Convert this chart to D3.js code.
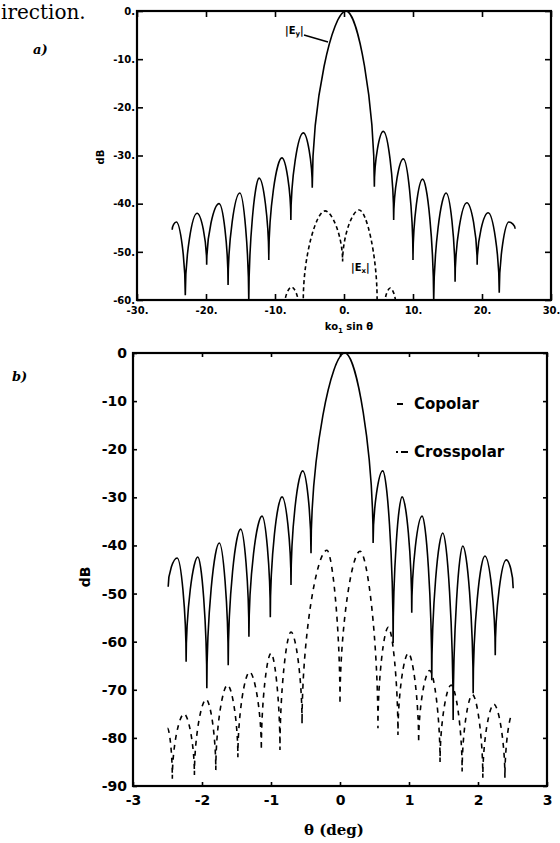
<!DOCTYPE html>
<html>
<head>
<meta charset="utf-8">
<script src="https://cdn.jsdelivr.net/npm/d3@7"></script>
<style>
  body { margin: 0; background: #fff; }
  svg { display: block; }
</style>
</head>
<body>
<script>
// panel a) : ko1 sin(theta) vs dB
const aXTicks = [-30, -20, -10, 0, 10, 20, 30];
const aYTicks = [0, -10, -20, -30, -40, -50, -60];
const aCopolar = [
  [-24.9, -45.4], [-24.3, -43.8], [-23.0, -59], [-21.3, -42], [-19.9, -52.7],
  [-18.1, -40], [-16.8, -56.9], [-15.1, -37.8], [-13.8, -61], [-12.3, -34.7],
  [-10.9, -51.7], [-9.0, -30.5], [-7.7, -43.4], [-5.9, -25.3], [-4.6, -36.7],
  [0.3, 0], [4.4, -36.5], [5.7, -25], [7.2, -43.4], [8.6, -30.7],
  [10.0, -51.7], [11.4, -34.9], [13.0, -61], [14.8, -37.8], [16.1, -56.2],
  [17.8, -39.8], [19.3, -52.7], [20.9, -41.9], [22.5, -58.5], [23.9, -43.8],
  [24.8, -45.2]
];
const aCrosspolar = [
  [-8.6, -61], [-7.6, -57.3], [-6.6, -61], [-5.9, -60], [-2.75, -41.5],
  [-0.2, -52], [2.2, -41.3], [4.8, -60], [5.9, -61], [6.7, -57.5], [7.5, -61]
];

// panel b) : theta (deg) vs dB
const bXTicks = [-3, -2, -1, 0, 1, 2, 3];
const bYTicks = [0, -10, -20, -30, -40, -50, -60, -70, -80, -90];
const bCopolar = [
  [-2.49, -48.6], [-2.36, -42.6], [-2.23, -64.2], [-2.06, -42.4], [-1.93, -69.7],
  [-1.75, -39.5], [-1.62, -64.9], [-1.44, -36.6], [-1.32, -59], [-1.13, -33.9],
  [-1.01, -54.9], [-0.84, -29.9], [-0.71, -48.2], [-0.54, -24.5], [-0.42, -41.6],
  [0.07, 0], [0.48, -39.5], [0.62, -24.5], [0.77, -60.3], [0.90, -29.9],
  [1.04, -54], [1.19, -33.9], [1.33, -68], [1.49, -37.4], [1.64, -76.3],
  [1.78, -40.1], [1.93, -70.7], [2.10, -42.2], [2.25, -62.8], [2.41, -43],
  [2.51, -48.9]
];
const bCrosspolar = [
  [-2.5, -78], [-2.43, -88.5], [-2.26, -75], [-2.11, -87.7], [-1.94, -72],
  [-1.8, -86.7], [-1.63, -69], [-1.48, -84], [-1.31, -66.3], [-1.14, -82.5],
  [-1.0, -62.4], [-0.87, -82.5], [-0.71, -58], [-0.55, -77], [-0.19, -41],
  [0.0, -73], [0.29, -41.2], [0.55, -78], [0.70, -57], [0.84, -79.4],
  [0.99, -62.4], [1.14, -81], [1.3, -66], [1.45, -85], [1.61, -69],
  [1.77, -87], [1.92, -71], [2.07, -88.3], [2.23, -73], [2.39, -88.3],
  [2.5, -75]
];

// lobe shaped curve: vertical tangent at the low (null) end, flat at the high end
const K = 0.5, M = 0.6;
function LobeCurve(context) { this._context = context; }
LobeCurve.prototype = {
  areaStart() {}, areaEnd() {},
  lineStart() { this._point = 0; },
  lineEnd() {},
  point(x, y) {
    x = +x; y = +y;
    const c = this._context;
    if (this._point === 0) {
      this._point = 1;
      c.moveTo(x, y);
    } else {
      const x0 = this._x0, y0 = this._y0;
      if (y < y0) {
        c.bezierCurveTo(x0, y0 + K * (y - y0), x0 + M * (x - x0), y, x, y);
      } else {
        c.bezierCurveTo(x0 + (1 - M) * (x - x0), y0, x, y + K * (y0 - y), x, y);
      }
    }
    this._x0 = x; this._y0 = y;
  }
};
const lobeCurve = ctx => new LobeCurve(ctx);

const svg = d3.select("body").append("svg")
  .attr("width", 560)
  .attr("height", 843);

// scrap of running text above the figure (cut at the page edge in the scan)
svg.append("text")
  .attr("x", 1).attr("y", 19)
  .attr("font-family", "DejaVu Serif")
  .attr("font-size", 20)
  .text("irection.");

function panel(opts) {
  const x = d3.scaleLinear().domain(opts.xDomain).range(opts.xRange);
  const y = d3.scaleLinear().domain(opts.yDomain).range(opts.yRange);
  const [x0, x1] = opts.xRange, [y1, y0] = opts.yRange;
  const g = svg.append("g");

  const clipId = "clip-" + opts.name;
  svg.append("clipPath").attr("id", clipId)
    .append("rect")
    .attr("x", x0).attr("y", y0)
    .attr("width", x1 - x0).attr("height", y1 - y0);

  const line = d3.line().x(d => x(d[0])).y(d => y(d[1])).curve(lobeCurve);

  g.append("path")
    .datum(opts.co)
    .attr("clip-path", `url(#${clipId})`)
    .attr("fill", "none")
    .attr("stroke", "#000")
    .attr("stroke-width", 1.6)
    .attr("d", line);

  g.append("path")
    .datum(opts.cross)
    .attr("clip-path", `url(#${clipId})`)
    .attr("fill", "none")
    .attr("stroke", "#000")
    .attr("stroke-width", 1.6)
    .attr("stroke-dasharray", opts.dash)
    .attr("d", line);

  // axes with inward ticks
  const fmt = opts.fmt;
  g.append("g")
    .attr("transform", `translate(0,${y1})`)
    .call(d3.axisBottom(x).tickValues(opts.xTicks).tickSize(-opts.tick)
      .tickSizeOuter(0).tickPadding(opts.xPad).tickFormat(fmt));
  g.append("g")
    .attr("transform", `translate(${x0},0)`)
    .call(d3.axisLeft(y).tickValues(opts.yTicks).tickSize(-opts.tick)
      .tickSizeOuter(0).tickPadding(opts.yPad).tickFormat(fmt));
  g.append("g")
    .attr("transform", `translate(0,${y0})`)
    .call(d3.axisTop(x).tickValues(opts.xTicks).tickSize(-opts.tick)
      .tickSizeOuter(0).tickFormat(""));
  g.append("g")
    .attr("transform", `translate(${x1},0)`)
    .call(d3.axisRight(y).tickValues(opts.yTicks).tickSize(-opts.tick)
      .tickSizeOuter(0).tickFormat(""));

  g.selectAll(".domain").remove();
  g.selectAll(".tick line").attr("stroke", "#000").attr("stroke-width", 1.6);
  g.selectAll(".tick text")
    .attr("fill", "#000")
    .attr("font-family", "DejaVu Sans")
    .attr("font-weight", "bold")
    .attr("font-size", opts.fontSize);

  g.append("rect")
    .attr("x", x0).attr("y", y0)
    .attr("width", x1 - x0).attr("height", y1 - y0)
    .attr("fill", "none")
    .attr("stroke", "#000")
    .attr("stroke-width", 2.2);

  return { x, y, g };
}

// ---- panel a ----
panel({
  name: "a",
  xDomain: [-30, 30], xRange: [137, 551],
  yDomain: [-60, 0], yRange: [300, 11],
  xTicks: aXTicks, yTicks: aYTicks,
  co: aCopolar, cross: aCrosspolar,
  dash: "4,3", tick: 6, xPad: 7, yPad: 2, fontSize: 10,
  fmt: d => d + "."
});

svg.append("text")
  .attr("x", 33).attr("y", 54)
  .attr("font-family", "DejaVu Serif")
  .attr("font-style", "italic").attr("font-weight", "bold")
  .attr("font-size", 13)
  .text("a)");

svg.append("text")
  .attr("transform", "translate(104,157) rotate(-90)")
  .attr("text-anchor", "middle")
  .attr("font-family", "DejaVu Sans").attr("font-weight", "bold")
  .attr("font-size", 10)
  .text("dB");

const aLabel = svg.append("text")
  .attr("x", 349).attr("y", 330)
  .attr("text-anchor", "middle")
  .attr("font-family", "DejaVu Sans").attr("font-weight", "bold")
  .attr("font-size", 10);
aLabel.append("tspan").text("ko");
aLabel.append("tspan").attr("font-size", 7).attr("dy", 3).text("1");
aLabel.append("tspan").attr("dy", -3).text(" sin θ");

const eyLabel = svg.append("text")
  .attr("x", 285).attr("y", 34)
  .attr("font-family", "DejaVu Sans").attr("font-weight", "bold")
  .attr("font-size", 10);
eyLabel.append("tspan").text("|E");
eyLabel.append("tspan").attr("font-size", 7).attr("dy", 2).text("y");
eyLabel.append("tspan").attr("dy", -2).text("|");
svg.append("line")
  .attr("x1", 304).attr("y1", 35).attr("x2", 328).attr("y2", 42)
  .attr("stroke", "#000").attr("stroke-width", 1.5);

const exLabel = svg.append("text")
  .attr("x", 351).attr("y", 271)
  .attr("font-family", "DejaVu Sans").attr("font-weight", "bold")
  .attr("font-size", 10);
exLabel.append("tspan").text("|E");
exLabel.append("tspan").attr("font-size", 7).attr("dy", 2).text("x");
exLabel.append("tspan").attr("dy", -2).text("|");

// ---- panel b ----
panel({
  name: "b",
  xDomain: [-3, 3], xRange: [133, 547],
  yDomain: [-90, 0], yRange: [786, 353],
  xTicks: bXTicks, yTicks: bYTicks,
  co: bCopolar, cross: bCrosspolar,
  dash: "5,5", tick: 4, xPad: 9, yPad: 6, fontSize: 14,
  fmt: d => String(d)
});

svg.append("text")
  .attr("x", 12).attr("y", 381)
  .attr("font-family", "DejaVu Serif")
  .attr("font-style", "italic").attr("font-weight", "bold")
  .attr("font-size", 13)
  .text("b)");

svg.append("text")
  .attr("transform", "translate(90,577) rotate(-90)")
  .attr("text-anchor", "middle")
  .attr("font-family", "DejaVu Sans").attr("font-weight", "bold")
  .attr("font-size", 14)
  .text("dB");

svg.append("text")
  .attr("x", 334).attr("y", 835)
  .attr("text-anchor", "middle")
  .attr("font-family", "DejaVu Serif").attr("font-weight", "bold")
  .attr("font-size", 15)
  .text("θ (deg)");

// legend
const legend = svg.append("g")
  .attr("font-family", "DejaVu Sans").attr("font-weight", "bold")
  .attr("font-size", 15);
legend.append("line")
  .attr("x1", 397).attr("x2", 403).attr("y1", 404).attr("y2", 404)
  .attr("stroke", "#000").attr("stroke-width", 2);
legend.append("text").attr("x", 414).attr("y", 409).text("Copolar");
legend.append("line")
  .attr("x1", 396).attr("x2", 408).attr("y1", 452).attr("y2", 452)
  .attr("stroke", "#000").attr("stroke-width", 2)
  .attr("stroke-dasharray", "2,3,7");
legend.append("text").attr("x", 414).attr("y", 457).text("Crosspolar");
</script>
</body>
</html>
